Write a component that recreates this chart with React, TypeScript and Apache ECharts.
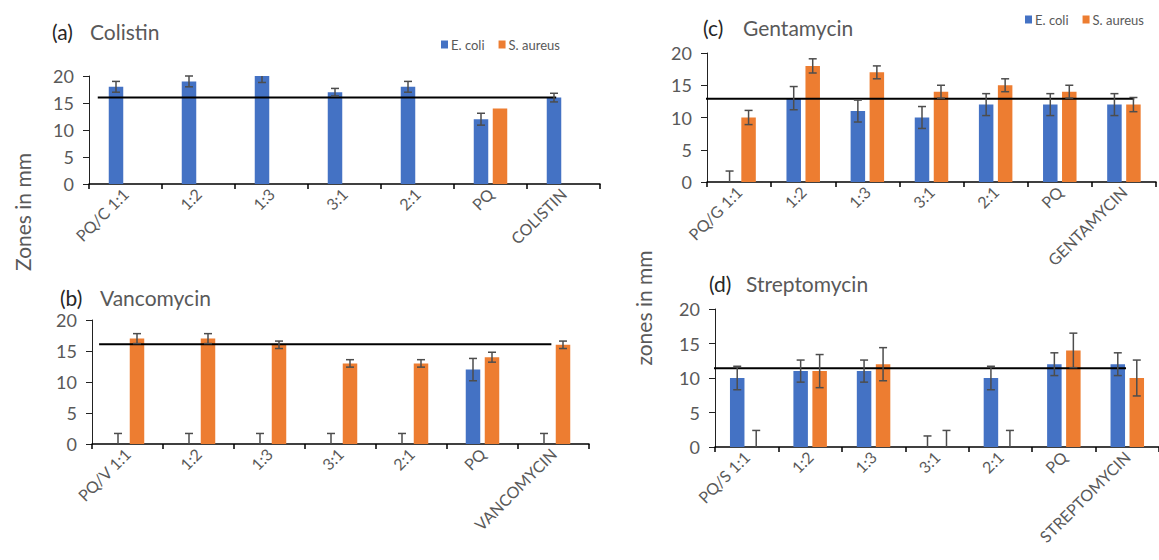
import React, { useEffect, useRef } from "react";
import * as echarts from "echarts";

// ---------- data ----------
const legendNames = ["E. coli", "S. aureus"];

const categoriesA = ["PQ/C 1:1", "1:2", "1:3", "3:1", "2:1", "PQ", "COLISTIN"];
const ecoliA = [18, 19, 20, 17, 18, 12, 16];
const ecoliErrA = [1, 1, 1.2, 0.7, 1, 1.1, 0.8];
const saureusA = [0, 0, 0, 0, 0, 14, 0];
const saureusErrA = [0, 0, 0, 0, 0, 0, 0];
const refA = 16;
const refSpanA = [0.12, 6.4];

const categoriesB = ["PQ/V 1:1", "1:2", "1:3", "3:1", "2:1", "PQ", "VANCOMYCIN"];
const ecoliB = [0, 0, 0, 0, 0, 12, 0];
const ecoliErrB = [1.7, 1.7, 1.7, 1.7, 1.7, 1.8, 1.7];
const saureusB = [17, 17, 16, 13, 13, 14, 16];
const saureusErrB = [0.8, 0.8, 0.6, 0.6, 0.6, 0.8, 0.6];
const refB = 16.1;
const refSpanB = [0.1, 6.47];

const categoriesC = ["PQ/G 1:1", "1:2", "1:3", "3:1", "2:1", "PQ", "GENTAMYCIN"];
const ecoliC = [0, 13, 11, 10, 12, 12, 12];
const ecoliErrC = [1.7, 1.8, 1.7, 1.7, 1.7, 1.7, 1.7];
const saureusC = [10, 18, 17, 14, 15, 14, 12];
const saureusErrC = [1.1, 1.1, 1, 1, 1, 1, 1.1];
const refC = 12.9;
const refSpanC = [-0.08, 6.66];

const categoriesD = ["PQ/S 1:1", "1:2", "1:3", "3:1", "2:1", "PQ", "STREPTOMYCIN"];
const ecoliD = [10, 11, 11, 0, 10, 12, 12];
const ecoliErrD = [1.7, 1.6, 1.6, 1.6, 1.7, 1.65, 1.65];
const saureusD = [0, 11, 12, 0, 0, 14, 10];
const saureusErrD = [2.4, 2.4, 2.4, 2.4, 2.4, 2.5, 2.6];
const refD = 11.4;
const refSpanD = [-0.23, 6.48];

const yMin = 0;
const yMax = 20;
const yInterval = 5;

// ---------- style ----------
const BLUE = "#4472C4";
const ORANGE = "#ED7D31";
const TEXT = "#595959";
const DARK = "#262626";
const ERR = "#4d4d4d";
const FONT = "Lato, 'Open Sans', sans-serif";
const BAR_W = 14.5;
const BAR_GAP = 0.31;
const OFFSET = (BAR_W + BAR_W * BAR_GAP) / 2;

const panels = [
  {
    letter: "(a)", name: "Colistin", cats: categoriesA,
    ecoli: ecoliA, ecoliErr: ecoliErrA, saureus: saureusA, saureusErr: saureusErrA,
    ref: refA, refSpan: refSpanA,
    grid: { left: 89, top: 76, width: 511, height: 108 },
    title: { x1: 52, x2: 90, y: 31 },
  },
  {
    letter: "(b)", name: "Vancomycin", cats: categoriesB,
    ecoli: ecoliB, ecoliErr: ecoliErrB, saureus: saureusB, saureusErr: saureusErrB,
    ref: refB, refSpan: refSpanB,
    grid: { left: 92, top: 320, width: 497, height: 124 },
    title: { x1: 60, x2: 100, y: 297 },
  },
  {
    letter: "(c)", name: "Gentamycin", cats: categoriesC,
    ecoli: ecoliC, ecoliErr: ecoliErrC, saureus: saureusC, saureusErr: saureusErrC,
    ref: refC, refSpan: refSpanC,
    grid: { left: 707, top: 53, width: 449, height: 129 },
    title: { x1: 703, x2: 743, y: 27 },
  },
  {
    letter: "(d)", name: "Streptomycin", cats: categoriesD,
    ecoli: ecoliD, ecoliErr: ecoliErrD, saureus: saureusD, saureusErr: saureusErrD,
    ref: refD, refSpan: refSpanD,
    grid: { left: 715, top: 309, width: 450, height: 138 },
    title: { x1: 709, x2: 746, y: 283 },
  },
];

function errSeries(k: number, values: number[], errs: number[], offset: number, id: string) {
  return {
    type: "custom",
    name: id,
    xAxisIndex: k,
    yAxisIndex: k,
    silent: true,
    z: 6,
    encode: { x: 0, y: 1 },
    data: values.map((v, i) => [i, v, errs[i]]).filter((d) => d[2] > 0),
    renderItem: (params: any, api: any) => {
      const i = api.value(0);
      const v = api.value(1);
      const e = api.value(2);
      const hiV = Math.min(yMax, v + e);
      const loV = Math.max(yMin, v - e);
      const top = api.coord([i, hiV]);
      const bot = api.coord([i, loV]);
      const x = top[0] + offset;
      const st = { stroke: ERR, lineWidth: 1.5 };
      const children: any[] = [
        { type: "line", shape: { x1: x, y1: top[1], x2: x, y2: bot[1] }, style: st },
      ];
      if (v + e <= yMax) {
        children.push({ type: "line", shape: { x1: x - 4, y1: top[1], x2: x + 4, y2: top[1] }, style: st });
      }
      if (v - e >= yMin) {
        children.push({ type: "line", shape: { x1: x - 4, y1: bot[1], x2: x + 4, y2: bot[1] }, style: st });
      }
      return { type: "group", children };
    },
  };
}

function buildOption() {
  const grid = panels.map((p) => ({ ...p.grid }));
  const xCat = panels.map((p, k) => ({
    type: "category",
    gridIndex: k,
    data: p.cats,
    axisLine: { show: true, lineStyle: { color: "#000", width: 1.5 } },
    axisTick: { show: true, length: 5, lineStyle: { color: "#000", width: 1.5 } },
    axisLabel: {
      interval: 0, rotate: 45, margin: 7, color: TEXT, fontSize: 16, fontFamily: FONT,
    },
    splitLine: { show: false },
  }));
  const xVal = panels.map((p, k) => ({
    type: "value", gridIndex: k, min: 0, max: p.cats.length, show: false,
  }));
  const yAxis = panels.map((p, k) => ({
    type: "value",
    gridIndex: k,
    min: yMin,
    max: yMax,
    interval: yInterval,
    axisLine: { show: true, lineStyle: { color: "#222", width: 1 } },
    axisTick: { show: true, length: 6, lineStyle: { color: "#222", width: 1 } },
    axisLabel: { color: TEXT, fontSize: 18, fontFamily: FONT, margin: 15 },
    splitLine: { show: false },
  }));

  const series: any[] = [];
  panels.forEach((p, k) => {
    series.push({
      type: "bar", name: legendNames[0], xAxisIndex: k, yAxisIndex: k,
      data: p.ecoli, barWidth: BAR_W, barGap: `${BAR_GAP * 100}%`,
      itemStyle: { color: BLUE }, z: 2,
    });
    series.push({
      type: "bar", name: legendNames[1], xAxisIndex: k, yAxisIndex: k,
      data: p.saureus, barWidth: BAR_W, barGap: `${BAR_GAP * 100}%`,
      itemStyle: { color: ORANGE }, z: 2,
    });
    series.push({
      type: "line", name: `ref-${k}`, xAxisIndex: 4 + k, yAxisIndex: k,
      data: [[p.refSpan[0], p.ref], [p.refSpan[1], p.ref]],
      symbol: "none", clip: false, silent: true, z: 4,
      lineStyle: { color: "#000", width: 2 },
    });
    series.push(errSeries(k, p.ecoli, p.ecoliErr, -OFFSET, `err-e-${k}`));
    series.push(errSeries(k, p.saureus, p.saureusErr, OFFSET, `err-s-${k}`));
  });

  const legendBase = {
    data: legendNames,
    icon: "rect",
    itemWidth: 7,
    itemHeight: 8,
    itemGap: 14,
    padding: 0,
    textStyle: { color: TEXT, fontSize: 13, fontFamily: FONT, padding: [0, 0, 0, -2] },
  };

  const graphic: any[] = [];
  panels.forEach((p) => {
    graphic.push({
      type: "text", x: p.title.x1, y: p.title.y,
      style: { text: p.letter, fill: DARK, fontSize: 21, fontFamily: FONT, align: "left", verticalAlign: "middle" },
    });
    graphic.push({
      type: "text", x: p.title.x2, y: p.title.y,
      style: { text: p.name, fill: TEXT, fontSize: 21, fontFamily: FONT, align: "left", verticalAlign: "middle" },
    });
  });
  graphic.push({
    type: "text", x: 22, y: 212, rotation: Math.PI / 2,
    style: { text: "Zones in mm", fill: TEXT, fontSize: 21, fontFamily: FONT, align: "center", verticalAlign: "middle" },
  });
  graphic.push({
    type: "text", x: 643, y: 308, rotation: Math.PI / 2,
    style: { text: "zones in mm", fill: TEXT, fontSize: 21, fontFamily: FONT, align: "center", verticalAlign: "middle" },
  });

  return {
    animation: false,
    backgroundColor: "#fff",
    grid,
    xAxis: [...xCat, ...xVal],
    yAxis,
    legend: [
      { ...legendBase, left: 441, top: 38 },
      { ...legendBase, left: 1025, top: 13 },
    ],
    graphic,
    series,
  };
}

export default function App() {
  const ref = useRef<HTMLDivElement>(null);
  useEffect(() => {
    if (!ref.current) return;
    const chart = echarts.init(ref.current, undefined, { renderer: "svg" });
    chart.setOption(buildOption() as any);
    return () => chart.dispose();
  }, []);
  return (
    <div
      ref={ref}
      style={{ position: "fixed", left: 0, top: 0, width: 1159, height: 560, background: "#fff" }}
    />
  );
}
